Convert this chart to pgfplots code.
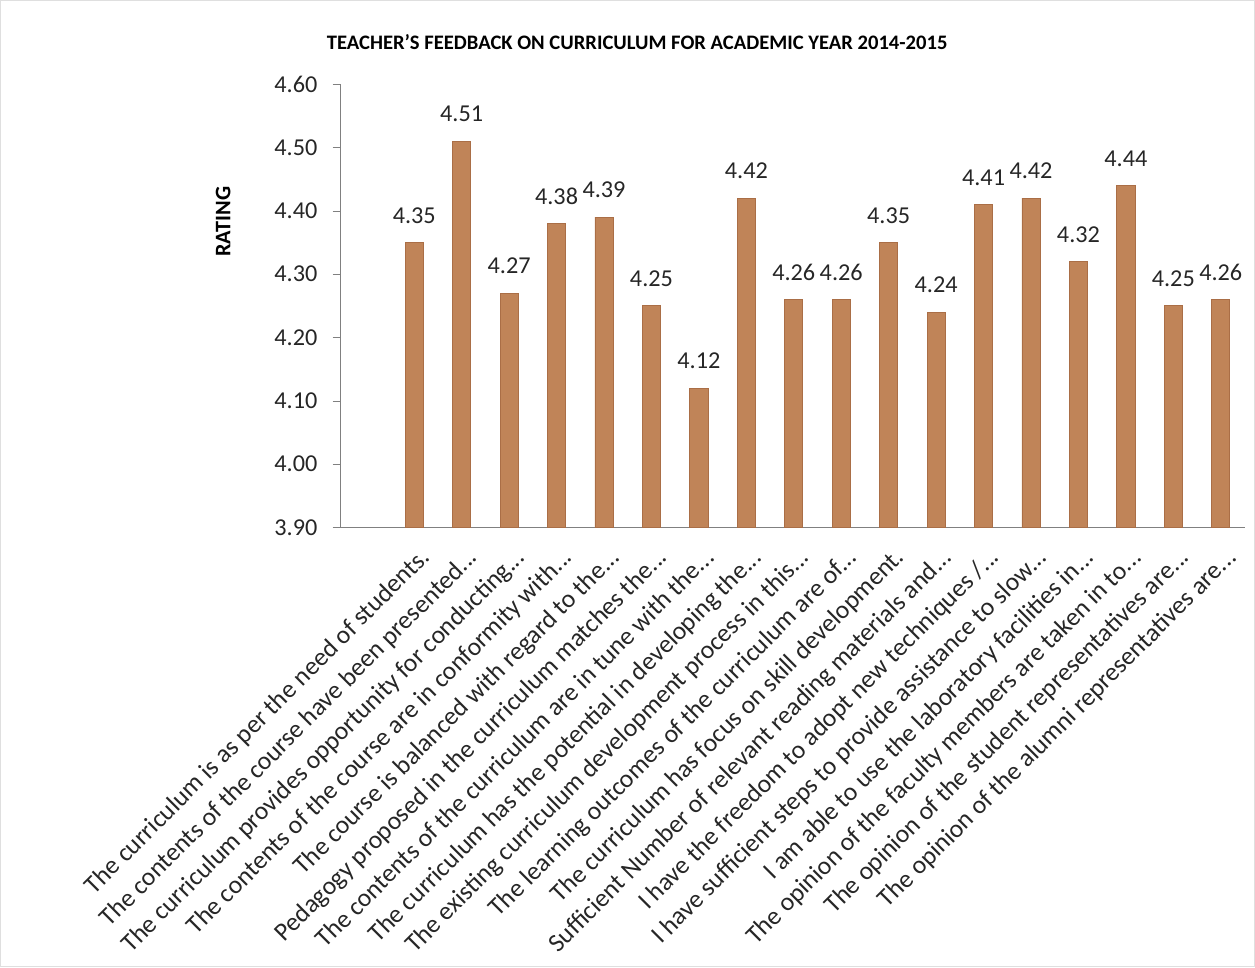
\documentclass[border=0pt]{standalone}
\usepackage{pgfplots}
\pgfplotsset{compat=1.18}
\usepackage{fontspec}
\setmainfont{Carlito}
\definecolor{cork}{RGB}{192,132,88}
\definecolor{corkedge}{RGB}{170,110,70}
\newcommand{\el}{...}

\begin{document}
\begin{tikzpicture}
\begin{axis}[
    scale only axis,
    width=447.5pt,
    height=219.5pt,
    ybar,
    bar width=9pt,
    xmin=-1.55, xmax=17.5,
    ymin=3.9, ymax=4.6,
    ytick={3.9,4.0,4.1,4.2,4.3,4.4,4.5,4.6},
    xtick={0,1,2,3,4,5,6,7,8,9,10,11,12,13,14,15,16,17},
    xticklabels={
        {The curriculum is as per the need of students.},
        {The contents of the course have been presented\el},
        {The curriculum provides opportunity for conducting\el},
        {The contents of the course are in conformity with\el},
        {The course is balanced with regard to the\el},
        {Pedagogy proposed in the curriculum matches the\el},
        {The contents of the curriculum are in tune with the\el},
        {The curriculum has the potential in developing the\el},
        {The existing curriculum development process in this\el},
        {The learning outcomes of the curriculum are of\el},
        {The curriculum has focus on skill development.},
        {Sufficient Number of relevant reading materials and\el},
        {I have the freedom to adopt new techniques /\el},
        {I have sufficient steps to provide assistance to slow\el},
        {I am able to use the laboratory facilities in\el},
        {The opinion of the faculty members are taken in to\el},
        {The opinion of the student representatives are\el},
        {The opinion of the alumni representatives are\el}
    },
    x tick label style={rotate=45, anchor=north east, font=\fontsize{12.7pt}{14pt}\selectfont, text=black!85, inner sep=1pt, yshift=-4pt, xshift=-1pt},
    y tick label style={font=\fontsize{12pt}{14pt}\selectfont, text=black!85, xshift=-4pt},
    /pgf/number format/.cd, fixed, fixed zerofill, precision=2, assume math mode=true,
    /pgfplots/.cd,
    xtick style={draw=none},
    ytick style={gray},
    tick align=outside,
    major tick length=4pt,
    axis x line*=bottom,
    axis y line*=left,
    axis line style={gray, -},
    title={\bfseries TEACHER'S FEEDBACK ON CURRICULUM FOR ACADEMIC YEAR 2014-2015},
    title style={font=\fontsize{10.2pt}{12pt}\selectfont, at={(axis description cs:0.328,1.035)}, anchor=south},
    ylabel={\bfseries RATING},
    ylabel style={font=\fontsize{11pt}{13pt}\selectfont, at={(axis description cs:-0.13,0.69)}, anchor=center},
    nodes near coords,
    nodes near coords style={font=\fontsize{12pt}{14pt}\selectfont, text=black!85, /pgf/number format/fixed, /pgf/number format/fixed zerofill, /pgf/number format/precision=2, /pgf/number format/assume math mode=true},
    every node near coord/.append style={yshift=6pt},
    clip=false,
]
\addplot[fill=cork, draw=corkedge] coordinates {
    (0,4.35) (1,4.51) (2,4.27) (3,4.38) (4,4.39) (5,4.25)
    (6,4.12) (7,4.42) (8,4.26) (9,4.26) (10,4.35) (11,4.24)
    (12,4.41) (13,4.42) (14,4.32) (15,4.44) (16,4.25) (17,4.26)
};
\coordinate (O) at (rel axis cs:0,0);
\end{axis}
\draw[gray!25] (O) ++(-168.5pt,-217.5pt) rectangle ++(621pt,478.5pt);
\end{tikzpicture}
\end{document}
